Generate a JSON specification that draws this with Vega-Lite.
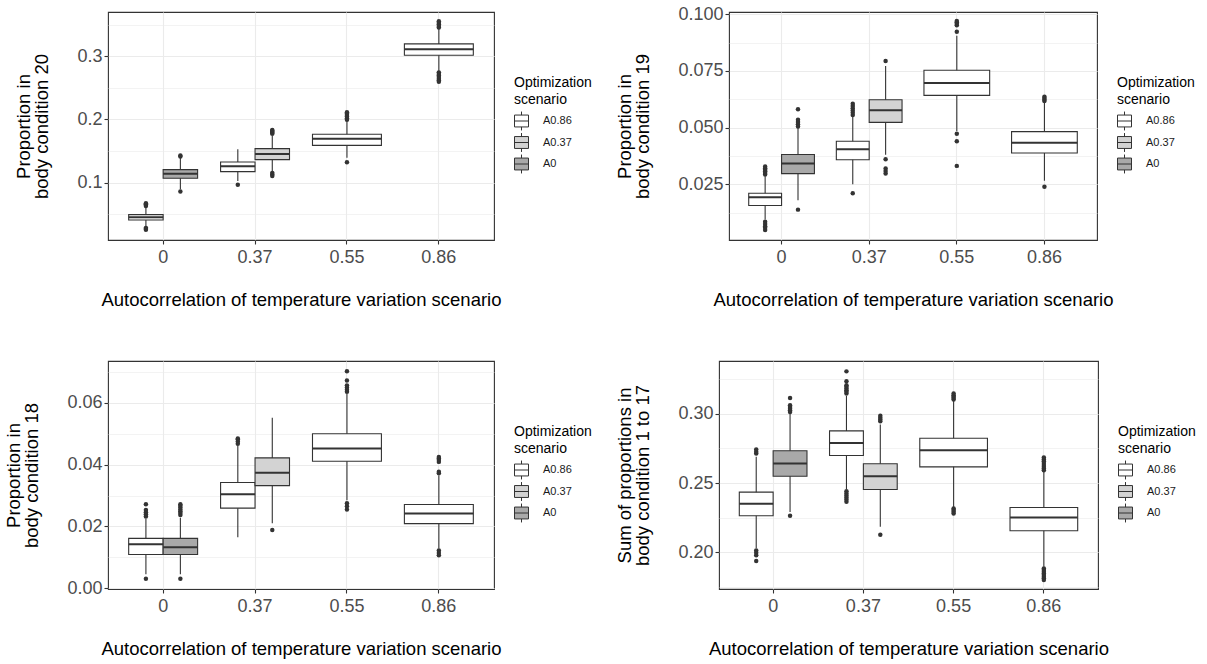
{
"$schema": "https://vega.github.io/schema/vega-lite/v6.json",
"background": "white",
"padding": {"left": 4, "top": 4, "right": 2, "bottom": 2},
"datasets": {"boxes": [
{"p":1,"x":"0","s":"A0.86","lo":0.031,"q1":0.041,"med":0.0453,"q3":0.0494,"hi":0.060,"out":[0.063,0.0645,0.066,0.0675,0.0285,0.027,0.0255]},
{"p":1,"x":"0","s":"A0","lo":0.0896,"q1":0.107,"med":0.1142,"q3":0.1206,"hi":0.139,"out":[0.1415,0.143,0.0862]},
{"p":1,"x":"0.37","s":"A0.86","lo":0.1027,"q1":0.1174,"med":0.126,"q3":0.1328,"hi":0.1528,"out":[0.0968]},
{"p":1,"x":"0.37","s":"A0.37","lo":0.118,"q1":0.1364,"med":0.1454,"q3":0.1538,"hi":0.174,"out":[0.1775,0.179,0.1805,0.182,0.1835,0.1155,0.113,0.1105]},
{"p":1,"x":"0.55","s":"A0.86","lo":0.1396,"q1":0.159,"med":0.1696,"q3":0.1766,"hi":0.197,"out":[0.1995,0.202,0.2045,0.207,0.2095,0.2115,0.1323]},
{"p":1,"x":"0.86","s":"A0.86","lo":0.2767,"q1":0.3016,"med":0.311,"q3":0.3195,"hi":0.343,"out":[0.3455,0.348,0.3505,0.353,0.3555,0.2745,0.272,0.2695,0.267,0.2645,0.262,0.2595]},
{"p":2,"x":"0","s":"A0.86","lo":0.0095,"q1":0.0156,"med":0.0193,"q3":0.021,"hi":0.0285,"out":[0.0293,0.03,0.0307,0.0314,0.0321,0.0328,0.0085,0.0075,0.0065,0.0058,0.0048]},
{"p":2,"x":"0","s":"A0","lo":0.0179,"q1":0.0297,"med":0.0341,"q3":0.0381,"hi":0.05,"out":[0.0505,0.0515,0.0525,0.0535,0.0581,0.0138]},
{"p":2,"x":"0.37","s":"A0.86","lo":0.025,"q1":0.0358,"med":0.0404,"q3":0.044,"hi":0.055,"out":[0.0555,0.0565,0.0575,0.0585,0.0595,0.0605,0.021]},
{"p":2,"x":"0.37","s":"A0.37","lo":0.038,"q1":0.0523,"med":0.0576,"q3":0.0623,"hi":0.0772,"out":[0.0794,0.036,0.032,0.0308,0.0297]},
{"p":2,"x":"0.55","s":"A0.86","lo":0.0485,"q1":0.0642,"med":0.0697,"q3":0.0753,"hi":0.0905,"out":[0.0923,0.0952,0.0958,0.0965,0.097,0.0473,0.044,0.0331]},
{"p":2,"x":"0.86","s":"A0.86","lo":0.0265,"q1":0.0388,"med":0.0433,"q3":0.0482,"hi":0.061,"out":[0.0617,0.0623,0.063,0.0636,0.0239]},
{"p":3,"x":"0","s":"A0.86","lo":0.0045,"q1":0.0109,"med":0.0142,"q3":0.0161,"hi":0.0225,"out":[0.0232,0.0239,0.0246,0.0253,0.0272,0.003]},
{"p":3,"x":"0","s":"A0","lo":0.0045,"q1":0.0109,"med":0.0132,"q3":0.0161,"hi":0.0228,"out":[0.0237,0.0243,0.0249,0.0255,0.0261,0.0267,0.0272,0.003]},
{"p":3,"x":"0.37","s":"A0.86","lo":0.0165,"q1":0.0259,"med":0.0304,"q3":0.0342,"hi":0.0462,"out":[0.0468,0.0475,0.0482,0.0485]},
{"p":3,"x":"0.37","s":"A0.37","lo":0.021,"q1":0.0332,"med":0.0374,"q3":0.0422,"hi":0.0552,"out":[0.0188]},
{"p":3,"x":"0.55","s":"A0.86","lo":0.0285,"q1":0.0411,"med":0.0452,"q3":0.05,"hi":0.063,"out":[0.0636,0.0643,0.065,0.0657,0.0673,0.0703,0.0275,0.0265,0.0255]},
{"p":3,"x":"0.86","s":"A0.86","lo":0.0128,"q1":0.0209,"med":0.0242,"q3":0.0271,"hi":0.0365,"out":[0.0372,0.0377,0.0409,0.0415,0.042,0.0425,0.0122,0.0114,0.0106]},
{"p":4,"x":"0","s":"A0.86","lo":0.2027,"q1":0.2263,"med":0.235,"q3":0.2434,"hi":0.269,"out":[0.2713,0.2727,0.2742,0.2012,0.1995,0.1978,0.1935]},
{"p":4,"x":"0","s":"A0","lo":0.229,"q1":0.2549,"med":0.2641,"q3":0.2733,"hi":0.3,"out":[0.3014,0.3026,0.3038,0.305,0.3062,0.3115,0.2263]},
{"p":4,"x":"0.37","s":"A0.86","lo":0.2455,"q1":0.2699,"med":0.279,"q3":0.2877,"hi":0.313,"out":[0.3148,0.316,0.3172,0.3184,0.3196,0.3207,0.3236,0.3308,0.244,0.2425,0.241,0.2395,0.238,0.2365]},
{"p":4,"x":"0.37","s":"A0.37","lo":0.2183,"q1":0.2453,"med":0.2549,"q3":0.2639,"hi":0.2923,"out":[0.2947,0.296,0.2973,0.2986,0.2126]},
{"p":4,"x":"0.55","s":"A0.86","lo":0.2325,"q1":0.2617,"med":0.2737,"q3":0.2824,"hi":0.3095,"out":[0.3105,0.3115,0.3125,0.3136,0.3147,0.2316,0.2304,0.2292,0.228]},
{"p":4,"x":"0.86","s":"A0.86","lo":0.1894,"q1":0.2155,"med":0.2251,"q3":0.2323,"hi":0.258,"out":[0.2592,0.2605,0.2618,0.2631,0.2644,0.2657,0.267,0.2684,0.1882,0.187,0.1858,0.1846,0.1834,0.1822,0.181,0.1798]}
]},
"spacing": 50,
"resolve": {"scale": {"x": "independent", "y": "independent", "fill": "independent", "xOffset": "independent"}, "axis": {"x": "independent", "y": "independent"}, "legend": {"fill": "independent"}},
"vconcat": [
{"hconcat": [
{
"width": 386, "height": 228,
"data": {"name": "boxes"},
"transform": [{"filter": "datum.p == 1"}, {"joinaggregate": [{"op": "count", "as": "n"}], "groupby": ["x"]}, {"window": [{"op": "row_number", "as": "slot"}], "groupby": ["x"], "sort": [{"field": "s", "order": "descending"}]}],
"encoding": {"x": {"field": "x", "type": "nominal", "title": "Autocorrelation of temperature variation scenario", "scale": {"domain": ["0","0.37","0.55","0.86"], "paddingInner": 0.25, "paddingOuter": 0.225}, "axis": {"labelAngle": 0, "grid": true, "bandPosition": 0.5}}},
"layer": [
{"transform": [{"filter": "datum.n == 2"}], "mark": {"type": "rule", "color": "#333333", "strokeWidth": 1.1}, "encoding": {"xOffset": {"field": "slot", "type": "nominal"}, "y": {"field": "lo", "type": "quantitative", "title": ["Proportion in", "body condition 20"], "scale": {"domain": [0.0093, 0.37], "nice": false, "zero": false}, "axis": {"values": [0.05,0.1,0.15,0.2,0.25,0.3,0.35], "tickCount": 20, "labelOverlap": false, "labelExpr": "abs(datum.value*10 - round(datum.value*10)) < 0.001 ? format(datum.value, '.1f') : ''", "tickOpacity": {"condition": {"test": "abs(datum.value*10 - round(datum.value*10)) > 0.001", "value": 0}, "value": 1}, "gridWidth": {"condition": {"test": "abs(datum.value*10 - round(datum.value*10)) > 0.001", "value": 0.6}, "value": 1.1}}}, "y2": {"field": "hi"}}},
{"transform": [{"filter": "datum.n == 1"}], "mark": {"type": "rule", "color": "#333333", "strokeWidth": 1.1}, "encoding": {"y": {"field": "lo", "type": "quantitative", "scale": {"domain": [0.0093, 0.37], "nice": false, "zero": false}}, "y2": {"field": "hi"}}},
{"transform": [{"filter": "datum.n == 2"}], "mark": {"type": "bar", "stroke": "#333333", "strokeWidth": 1.1}, "encoding": {"xOffset": {"field": "slot", "type": "nominal"}, "y": {"field": "q1", "type": "quantitative", "scale": {"domain": [0.0093, 0.37], "nice": false, "zero": false}}, "y2": {"field": "q3"}, "fill": {"field": "s", "type": "nominal", "scale": {"domain": ["A0.86","A0.37","A0"], "range": ["#FFFFFF","#D3D3D3","#A9A9A9"]}, "legend": {"title": ["Optimization", "scenario"]}}}},
{"transform": [{"filter": "datum.n == 1"}], "mark": {"type": "bar", "stroke": "#333333", "strokeWidth": 1.1}, "encoding": {"y": {"field": "q1", "type": "quantitative", "scale": {"domain": [0.0093, 0.37], "nice": false, "zero": false}}, "y2": {"field": "q3"}, "fill": {"field": "s", "type": "nominal", "scale": {"domain": ["A0.86","A0.37","A0"], "range": ["#FFFFFF","#D3D3D3","#A9A9A9"]}, "legend": {"title": ["Optimization", "scenario"]}}}},
{"transform": [{"filter": "datum.n == 2"}], "mark": {"type": "bar", "fillOpacity": 0, "stroke": "#333333", "strokeWidth": 2}, "encoding": {"xOffset": {"field": "slot", "type": "nominal"}, "y": {"field": "med", "type": "quantitative", "scale": {"domain": [0.0093, 0.37], "nice": false, "zero": false}}, "y2": {"field": "med"}}},
{"transform": [{"filter": "datum.n == 1"}], "mark": {"type": "bar", "fillOpacity": 0, "stroke": "#333333", "strokeWidth": 2}, "encoding": {"y": {"field": "med", "type": "quantitative", "scale": {"domain": [0.0093, 0.37], "nice": false, "zero": false}}, "y2": {"field": "med"}}},
{"transform": [{"filter": "datum.n == 2"}, {"flatten": ["out"]}], "mark": {"type": "circle", "color": "#333333", "size": 20, "opacity": 1}, "encoding": {"xOffset": {"field": "slot", "type": "nominal"}, "y": {"field": "out", "type": "quantitative", "scale": {"domain": [0.0093, 0.37], "nice": false, "zero": false}}}},
{"transform": [{"filter": "datum.n == 1"}, {"flatten": ["out"]}], "mark": {"type": "circle", "color": "#333333", "size": 20, "opacity": 1}, "encoding": {"y": {"field": "out", "type": "quantitative", "scale": {"domain": [0.0093, 0.37], "nice": false, "zero": false}}}}
]
},
{
"width": 368, "height": 228,
"data": {"name": "boxes"},
"transform": [{"filter": "datum.p == 2"}, {"joinaggregate": [{"op": "count", "as": "n"}], "groupby": ["x"]}, {"window": [{"op": "row_number", "as": "slot"}], "groupby": ["x"], "sort": [{"field": "s", "order": "descending"}]}],
"encoding": {"x": {"field": "x", "type": "nominal", "title": "Autocorrelation of temperature variation scenario", "scale": {"domain": ["0","0.37","0.55","0.86"], "paddingInner": 0.25, "paddingOuter": 0.225}, "axis": {"labelAngle": 0, "grid": true, "bandPosition": 0.5}}},
"layer": [
{"transform": [{"filter": "datum.n == 2"}], "mark": {"type": "rule", "color": "#333333", "strokeWidth": 1.1}, "encoding": {"xOffset": {"field": "slot", "type": "nominal"}, "y": {"field": "lo", "type": "quantitative", "title": ["Proportion in", "body condition 19"], "scale": {"domain": [0.0004, 0.101], "nice": false, "zero": false}, "axis": {"values": [0.0125,0.025,0.0375,0.05,0.0625,0.075,0.0875,0.1], "tickCount": 20, "labelOverlap": false, "labelExpr": "abs(datum.value*40 - round(datum.value*40)) < 0.001 ? format(datum.value, '.3f') : ''", "tickOpacity": {"condition": {"test": "abs(datum.value*40 - round(datum.value*40)) > 0.001", "value": 0}, "value": 1}, "gridWidth": {"condition": {"test": "abs(datum.value*40 - round(datum.value*40)) > 0.001", "value": 0.6}, "value": 1.1}}}, "y2": {"field": "hi"}}},
{"transform": [{"filter": "datum.n == 1"}], "mark": {"type": "rule", "color": "#333333", "strokeWidth": 1.1}, "encoding": {"y": {"field": "lo", "type": "quantitative", "scale": {"domain": [0.0004, 0.101], "nice": false, "zero": false}}, "y2": {"field": "hi"}}},
{"transform": [{"filter": "datum.n == 2"}], "mark": {"type": "bar", "stroke": "#333333", "strokeWidth": 1.1}, "encoding": {"xOffset": {"field": "slot", "type": "nominal"}, "y": {"field": "q1", "type": "quantitative", "scale": {"domain": [0.0004, 0.101], "nice": false, "zero": false}}, "y2": {"field": "q3"}, "fill": {"field": "s", "type": "nominal", "scale": {"domain": ["A0.86","A0.37","A0"], "range": ["#FFFFFF","#D3D3D3","#A9A9A9"]}, "legend": {"title": ["Optimization", "scenario"]}}}},
{"transform": [{"filter": "datum.n == 1"}], "mark": {"type": "bar", "stroke": "#333333", "strokeWidth": 1.1}, "encoding": {"y": {"field": "q1", "type": "quantitative", "scale": {"domain": [0.0004, 0.101], "nice": false, "zero": false}}, "y2": {"field": "q3"}, "fill": {"field": "s", "type": "nominal", "scale": {"domain": ["A0.86","A0.37","A0"], "range": ["#FFFFFF","#D3D3D3","#A9A9A9"]}, "legend": {"title": ["Optimization", "scenario"]}}}},
{"transform": [{"filter": "datum.n == 2"}], "mark": {"type": "bar", "fillOpacity": 0, "stroke": "#333333", "strokeWidth": 2}, "encoding": {"xOffset": {"field": "slot", "type": "nominal"}, "y": {"field": "med", "type": "quantitative", "scale": {"domain": [0.0004, 0.101], "nice": false, "zero": false}}, "y2": {"field": "med"}}},
{"transform": [{"filter": "datum.n == 1"}], "mark": {"type": "bar", "fillOpacity": 0, "stroke": "#333333", "strokeWidth": 2}, "encoding": {"y": {"field": "med", "type": "quantitative", "scale": {"domain": [0.0004, 0.101], "nice": false, "zero": false}}, "y2": {"field": "med"}}},
{"transform": [{"filter": "datum.n == 2"}, {"flatten": ["out"]}], "mark": {"type": "circle", "color": "#333333", "size": 20, "opacity": 1}, "encoding": {"xOffset": {"field": "slot", "type": "nominal"}, "y": {"field": "out", "type": "quantitative", "scale": {"domain": [0.0004, 0.101], "nice": false, "zero": false}}}},
{"transform": [{"filter": "datum.n == 1"}, {"flatten": ["out"]}], "mark": {"type": "circle", "color": "#333333", "size": 20, "opacity": 1}, "encoding": {"y": {"field": "out", "type": "quantitative", "scale": {"domain": [0.0004, 0.101], "nice": false, "zero": false}}}}
]
}
], "spacing": 22, "resolve": {"scale": {"x": "independent", "y": "independent", "fill": "independent", "xOffset": "independent"}, "axis": {"x": "independent", "y": "independent"}, "legend": {"fill": "independent"}}},
{"hconcat": [
{
"width": 386, "height": 228,
"data": {"name": "boxes"},
"transform": [{"filter": "datum.p == 3"}, {"joinaggregate": [{"op": "count", "as": "n"}], "groupby": ["x"]}, {"window": [{"op": "row_number", "as": "slot"}], "groupby": ["x"], "sort": [{"field": "s", "order": "descending"}]}],
"encoding": {"x": {"field": "x", "type": "nominal", "title": "Autocorrelation of temperature variation scenario", "scale": {"domain": ["0","0.37","0.55","0.86"], "paddingInner": 0.25, "paddingOuter": 0.225}, "axis": {"labelAngle": 0, "grid": true, "bandPosition": 0.5}}},
"layer": [
{"transform": [{"filter": "datum.n == 2"}], "mark": {"type": "rule", "color": "#333333", "strokeWidth": 1.1}, "encoding": {"xOffset": {"field": "slot", "type": "nominal"}, "y": {"field": "lo", "type": "quantitative", "title": ["Proportion in", "body condition 18"], "scale": {"domain": [-0.0003, 0.0736], "nice": false, "zero": false}, "axis": {"values": [0,0.01,0.02,0.03,0.04,0.05,0.06,0.07], "tickCount": 20, "labelOverlap": false, "labelExpr": "abs(datum.value*50 - round(datum.value*50)) < 0.001 ? format(datum.value, '.2f') : ''", "tickOpacity": {"condition": {"test": "abs(datum.value*50 - round(datum.value*50)) > 0.001", "value": 0}, "value": 1}, "gridWidth": {"condition": {"test": "abs(datum.value*50 - round(datum.value*50)) > 0.001", "value": 0.6}, "value": 1.1}}}, "y2": {"field": "hi"}}},
{"transform": [{"filter": "datum.n == 1"}], "mark": {"type": "rule", "color": "#333333", "strokeWidth": 1.1}, "encoding": {"y": {"field": "lo", "type": "quantitative", "scale": {"domain": [-0.0003, 0.0736], "nice": false, "zero": false}}, "y2": {"field": "hi"}}},
{"transform": [{"filter": "datum.n == 2"}], "mark": {"type": "bar", "stroke": "#333333", "strokeWidth": 1.1}, "encoding": {"xOffset": {"field": "slot", "type": "nominal"}, "y": {"field": "q1", "type": "quantitative", "scale": {"domain": [-0.0003, 0.0736], "nice": false, "zero": false}}, "y2": {"field": "q3"}, "fill": {"field": "s", "type": "nominal", "scale": {"domain": ["A0.86","A0.37","A0"], "range": ["#FFFFFF","#D3D3D3","#A9A9A9"]}, "legend": {"title": ["Optimization", "scenario"]}}}},
{"transform": [{"filter": "datum.n == 1"}], "mark": {"type": "bar", "stroke": "#333333", "strokeWidth": 1.1}, "encoding": {"y": {"field": "q1", "type": "quantitative", "scale": {"domain": [-0.0003, 0.0736], "nice": false, "zero": false}}, "y2": {"field": "q3"}, "fill": {"field": "s", "type": "nominal", "scale": {"domain": ["A0.86","A0.37","A0"], "range": ["#FFFFFF","#D3D3D3","#A9A9A9"]}, "legend": {"title": ["Optimization", "scenario"]}}}},
{"transform": [{"filter": "datum.n == 2"}], "mark": {"type": "bar", "fillOpacity": 0, "stroke": "#333333", "strokeWidth": 2}, "encoding": {"xOffset": {"field": "slot", "type": "nominal"}, "y": {"field": "med", "type": "quantitative", "scale": {"domain": [-0.0003, 0.0736], "nice": false, "zero": false}}, "y2": {"field": "med"}}},
{"transform": [{"filter": "datum.n == 1"}], "mark": {"type": "bar", "fillOpacity": 0, "stroke": "#333333", "strokeWidth": 2}, "encoding": {"y": {"field": "med", "type": "quantitative", "scale": {"domain": [-0.0003, 0.0736], "nice": false, "zero": false}}, "y2": {"field": "med"}}},
{"transform": [{"filter": "datum.n == 2"}, {"flatten": ["out"]}], "mark": {"type": "circle", "color": "#333333", "size": 20, "opacity": 1}, "encoding": {"xOffset": {"field": "slot", "type": "nominal"}, "y": {"field": "out", "type": "quantitative", "scale": {"domain": [-0.0003, 0.0736], "nice": false, "zero": false}}}},
{"transform": [{"filter": "datum.n == 1"}, {"flatten": ["out"]}], "mark": {"type": "circle", "color": "#333333", "size": 20, "opacity": 1}, "encoding": {"y": {"field": "out", "type": "quantitative", "scale": {"domain": [-0.0003, 0.0736], "nice": false, "zero": false}}}}
]
},
{
"width": 379, "height": 228,
"data": {"name": "boxes"},
"transform": [{"filter": "datum.p == 4"}, {"joinaggregate": [{"op": "count", "as": "n"}], "groupby": ["x"]}, {"window": [{"op": "row_number", "as": "slot"}], "groupby": ["x"], "sort": [{"field": "s", "order": "descending"}]}],
"encoding": {"x": {"field": "x", "type": "nominal", "title": "Autocorrelation of temperature variation scenario", "scale": {"domain": ["0","0.37","0.55","0.86"], "paddingInner": 0.25, "paddingOuter": 0.225}, "axis": {"labelAngle": 0, "grid": true, "bandPosition": 0.5}}},
"layer": [
{"transform": [{"filter": "datum.n == 2"}], "mark": {"type": "rule", "color": "#333333", "strokeWidth": 1.1}, "encoding": {"xOffset": {"field": "slot", "type": "nominal"}, "y": {"field": "lo", "type": "quantitative", "title": ["Sum of proportions in", "body condition 1 to 17"], "scale": {"domain": [0.1733, 0.3383], "nice": false, "zero": false}, "axis": {"values": [0.175,0.2,0.225,0.25,0.275,0.3,0.325], "tickCount": 20, "labelOverlap": false, "labelExpr": "abs(datum.value*20 - round(datum.value*20)) < 0.001 ? format(datum.value, '.2f') : ''", "tickOpacity": {"condition": {"test": "abs(datum.value*20 - round(datum.value*20)) > 0.001", "value": 0}, "value": 1}, "gridWidth": {"condition": {"test": "abs(datum.value*20 - round(datum.value*20)) > 0.001", "value": 0.6}, "value": 1.1}}}, "y2": {"field": "hi"}}},
{"transform": [{"filter": "datum.n == 1"}], "mark": {"type": "rule", "color": "#333333", "strokeWidth": 1.1}, "encoding": {"y": {"field": "lo", "type": "quantitative", "scale": {"domain": [0.1733, 0.3383], "nice": false, "zero": false}}, "y2": {"field": "hi"}}},
{"transform": [{"filter": "datum.n == 2"}], "mark": {"type": "bar", "stroke": "#333333", "strokeWidth": 1.1}, "encoding": {"xOffset": {"field": "slot", "type": "nominal"}, "y": {"field": "q1", "type": "quantitative", "scale": {"domain": [0.1733, 0.3383], "nice": false, "zero": false}}, "y2": {"field": "q3"}, "fill": {"field": "s", "type": "nominal", "scale": {"domain": ["A0.86","A0.37","A0"], "range": ["#FFFFFF","#D3D3D3","#A9A9A9"]}, "legend": {"title": ["Optimization", "scenario"]}}}},
{"transform": [{"filter": "datum.n == 1"}], "mark": {"type": "bar", "stroke": "#333333", "strokeWidth": 1.1}, "encoding": {"y": {"field": "q1", "type": "quantitative", "scale": {"domain": [0.1733, 0.3383], "nice": false, "zero": false}}, "y2": {"field": "q3"}, "fill": {"field": "s", "type": "nominal", "scale": {"domain": ["A0.86","A0.37","A0"], "range": ["#FFFFFF","#D3D3D3","#A9A9A9"]}, "legend": {"title": ["Optimization", "scenario"]}}}},
{"transform": [{"filter": "datum.n == 2"}], "mark": {"type": "bar", "fillOpacity": 0, "stroke": "#333333", "strokeWidth": 2}, "encoding": {"xOffset": {"field": "slot", "type": "nominal"}, "y": {"field": "med", "type": "quantitative", "scale": {"domain": [0.1733, 0.3383], "nice": false, "zero": false}}, "y2": {"field": "med"}}},
{"transform": [{"filter": "datum.n == 1"}], "mark": {"type": "bar", "fillOpacity": 0, "stroke": "#333333", "strokeWidth": 2}, "encoding": {"y": {"field": "med", "type": "quantitative", "scale": {"domain": [0.1733, 0.3383], "nice": false, "zero": false}}, "y2": {"field": "med"}}},
{"transform": [{"filter": "datum.n == 2"}, {"flatten": ["out"]}], "mark": {"type": "circle", "color": "#333333", "size": 20, "opacity": 1}, "encoding": {"xOffset": {"field": "slot", "type": "nominal"}, "y": {"field": "out", "type": "quantitative", "scale": {"domain": [0.1733, 0.3383], "nice": false, "zero": false}}}},
{"transform": [{"filter": "datum.n == 1"}, {"flatten": ["out"]}], "mark": {"type": "circle", "color": "#333333", "size": 20, "opacity": 1}, "encoding": {"y": {"field": "out", "type": "quantitative", "scale": {"domain": [0.1733, 0.3383], "nice": false, "zero": false}}}}
]
}
], "spacing": 22, "resolve": {"scale": {"x": "independent", "y": "independent", "fill": "independent", "xOffset": "independent"}, "axis": {"x": "independent", "y": "independent"}, "legend": {"fill": "independent"}}}
],
"config": {
"font": "Liberation Sans",
"view": {"stroke": "#333333", "strokeWidth": 1.1},
"axis": {"labelFont": "Liberation Sans", "titleFont": "Liberation Sans", "labelFontSize": 18, "labelColor": "#4D4D4D", "titleFontSize": 18.5, "titleFontWeight": "normal", "titleColor": "#000000", "tickColor": "#333333", "tickSize": 4, "tickWidth": 1.1, "domain": false, "gridColor": "#EBEBEB", "gridWidth": 1.1, "labelPadding": 2},
"axisX": {"titlePadding": 24, "labelPadding": 4},
"axisY": {"titlePadding": 25, "titleLineHeight": 18},
"legend": {"titleFont": "Liberation Sans", "labelFont": "Liberation Sans", "titleFontSize": 14, "titleFontWeight": "normal", "titleColor": "#000000", "titleLineHeight": 16.5, "titlePadding": 7, "labelFontSize": 11, "labelColor": "#1A1A1A", "labelOffset": 14, "symbolType": "M-1,-0.85H1V0.85H-1Z M-1,0H1 M0,-0.85V-1.35 M0,0.85V1.35", "symbolSize": 196, "symbolStrokeColor": "#333333", "symbolStrokeWidth": 1, "rowPadding": -1.5, "offset": 20, "padding": 0, "layout": {"right": {"anchor": "middle"}}}
}
}
